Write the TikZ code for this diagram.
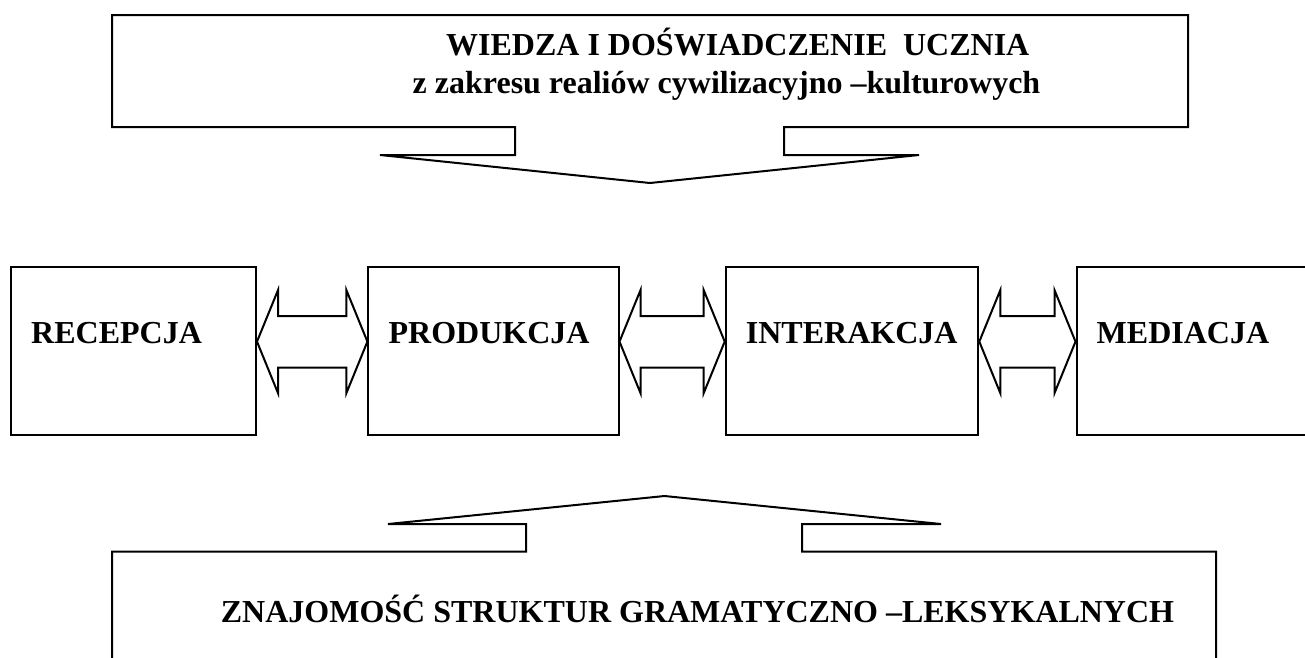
\documentclass[tikz,border=0pt]{standalone}
\usepackage{fontspec}
\setmainfont{Liberation Serif}
\usetikzlibrary{calc}
\tikzset{
  ln/.style={line width=2pt, draw=black, line join=miter},
  boxnode/.style={draw, line width=2pt, rectangle, inner sep=0pt, minimum height=167.8pt},
  lbl/.style={inner sep=0pt, anchor=base west, font=\fontsize{32pt}{38pt}\selectfont\bfseries},
  dblarrow/.style={line width=2pt, line join=miter},
}
\newcommand{\dblarr}[2]{%
  \draw[dblarrow] let \p1=($(#1.east)+(0,-9)$), \p2=($(#2.west)+(0,-9)$) in
   (\x1,\y1) -- (\x1+21pt,\y1+51.5pt) -- (\x1+21pt,\y1+25.5pt) -- (\x2-21pt,\y1+25.5pt)
   -- (\x2-21pt,\y1+51.5pt) -- (\x2,\y1) -- (\x2-21pt,\y1-51.5pt) -- (\x2-21pt,\y1-26pt)
   -- (\x1+21pt,\y1-26pt) -- (\x1+21pt,\y1-51.5pt) -- cycle;}
\begin{document}
\begin{tikzpicture}[x=1pt,y=-1pt]
\useasboundingbox (0,0) rectangle (1305,657);
\clip (0,0) rectangle (1305,657);
% top callout
\draw[ln] (112,15) -- (1188,15) -- (1188,127) -- (784,127) -- (784,155) -- (919,155)
  -- (650,183) -- (380,155) -- (515,155) -- (515,127) -- (112,127) -- cycle;
\node[lbl] (t1) at (446,55.3) {WIEDZA I DOŚWIADCZENIE~~UCZNIA};
\node[lbl] (t2) at (412.5,93.3) {z zakresu realiów cywilizacyjno –kulturowych};
% boxes
\node[boxnode, minimum width=245pt] (rec) at (133.5,350.6) {};
\node[boxnode, minimum width=250.1pt] (prod) at (493.45,350.6) {};
\node[boxnode, minimum width=252.6pt] (inter) at (852,350.6) {};
\node[boxnode, minimum width=252pt] (med) at (1202.5,350.6) {};
\node[lbl] (recT) at ($(rec.north west)+(21,78)$) {RECEPCJA};
\node[lbl] (prodT) at ($(prod.north west)+(21,78)$) {PRODUKCJA};
\node[lbl] (interT) at ($(inter.north west)+(21,78)$) {INTERAKCJA};
\node[lbl] (medT) at ($(med.north west)+(21,78)$) {MEDIACJA};
% double arrows
\dblarr{rec}{prod}
\dblarr{prod}{inter}
\dblarr{inter}{med}
% bottom callout
\draw[ln] (112,680) -- (112,551.5) -- (526,551.5) -- (526,524) -- (388,524) -- (664.5,496)
  -- (941,524) -- (802,524) -- (802,551.5) -- (1216,551.5) -- (1216,680);
\node[lbl] (b1) at (220.7,622.5) {ZNAJOMOŚĆ STRUKTUR GRAMATYCZNO –LEKSYKALNYCH};
\end{tikzpicture}
\end{document}
